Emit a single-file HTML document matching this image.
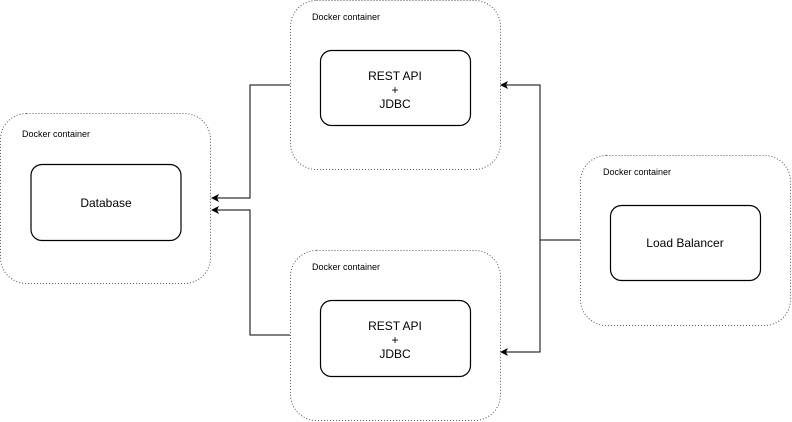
<!DOCTYPE html>
<html><head><style>body{margin:0;background:#fff}svg{display:block}</style></head><body>
<svg width="792" height="422" xmlns="http://www.w3.org/2000/svg" font-family="Liberation Sans, Arial, sans-serif">
<defs><marker id="a" markerWidth="8" markerHeight="8" refX="7" refY="4" orient="auto" markerUnits="userSpaceOnUse"><path d="M0,0 L8,4 L0,8 L2,4 Z" fill="#000"/></marker></defs>
<g fill="none" stroke="#555" stroke-dasharray="1,2">
<rect x="0.5" y="113.5" width="210" height="170" rx="26"/>
<rect x="290.5" y="0.5" width="210" height="169" rx="26"/>
<rect x="290.5" y="250.5" width="210" height="170" rx="26"/>
<rect x="580.5" y="155.5" width="210" height="170" rx="26"/>
</g>
<g fill="#fff" stroke="#000" stroke-width="1.2">
<rect x="31" y="164.5" width="150" height="76" rx="11"/>
<rect x="320.5" y="50.5" width="150" height="75" rx="11"/>
<rect x="320.5" y="300.5" width="150" height="76" rx="11"/>
<rect x="610.5" y="205.5" width="150" height="75" rx="11"/>
</g>
<g font-size="9" fill="#000">
<text x="22" y="137">Docker container</text>
<text x="312" y="20">Docker container</text>
<text x="312" y="270">Docker container</text>
<text x="603" y="175">Docker container</text>
</g>
<g font-size="12" fill="#000" text-anchor="middle">
<text x="106" y="207">Database</text>
<text x="395" y="80">REST API</text><text x="395" y="94">+</text><text x="395" y="108">JDBC</text>
<text x="395" y="330">REST API</text><text x="395" y="344">+</text><text x="395" y="358">JDBC</text>
<text x="685" y="247">Load Balancer</text>
</g>
<g fill="none" stroke="#000" stroke-width="1">
<path d="M290,85 H250 V198 H212" marker-end="url(#a)"/>
<path d="M290,335 H250 V210 H212" marker-end="url(#a)"/>
<path d="M580,240 H540 V85 H501" marker-end="url(#a)"/>
<path d="M540,240 V352 H501" marker-end="url(#a)"/>
</g>
</svg>
</body></html>
